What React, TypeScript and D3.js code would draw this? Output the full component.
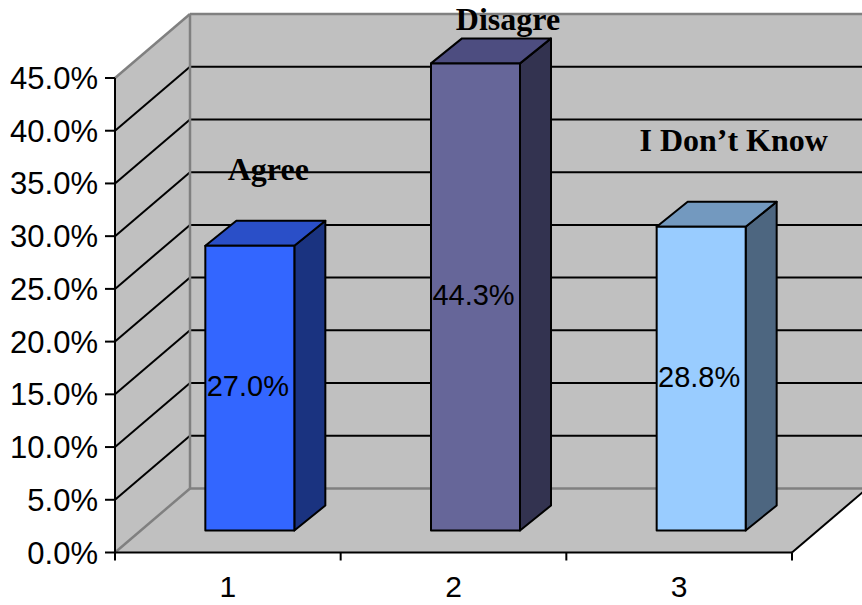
import React from "react";
import * as d3 from "d3";

// Survey responses, share of respondents (%)
const categories = ["1", "2", "3"];
const answerNames = ["Agree", "Disagre", "I Don\u2019t Know"];
const shares = [27.0, 44.3, 28.8];
const yTicks = [0, 5, 10, 15, 20, 25, 30, 35, 40, 45];

// Per-bar colours: front face, top face, side face
const frontColors = ["#3366FF", "#666699", "#99CCFF"];
const topColors = ["#2A4FC8", "#4D4D80", "#7399BF"];
const sideColors = ["#1A3380", "#333350", "#4D6680"];

// Answer-name label placement relative to the bar's back-top centre
const nameOffsets = [
  { dx: 3, dy: -41 },
  { dx: 17, dy: -8 },
  { dx: 17, dy: -51 },
];

const W = 862;
const H = 605;
const left = 115;
const right = 792;
const floorY = 552.5;
const topY = 78;
// Depth vector of the chart box (front plane -> back wall)
const DX = 75;
const DY = -64;
// Bars sit partway into the box
const barShift = { dx: 22, dy: -22 };
const barDepth = { dx: 31, dy: -25 };
const barWidth = 89;

const x = d3.scaleBand<string>().domain(categories).range([left, right]);
const y = d3.scaleLinear().domain([0, 45]).range([floorY, topY]);

const pts = (p: [number, number][]) => p.map((q) => q.join(",")).join(" ");

export default function App() {
  const sans = "'Liberation Sans', Arial, sans-serif";
  const serif = "'Liberation Serif', 'Times New Roman', serif";
  const wallRight = right + DX;
  const backY = (v: number) => y(v) + DY;

  return (
    <svg
      width={W}
      height={H}
      style={{ position: "absolute", left: 0, top: 0, background: "#fff" }}
    >
      {/* left side wall */}
      <polygon
        points={pts([
          [left, y(0)],
          [left, y(45)],
          [left + DX, backY(45)],
          [left + DX, backY(0)],
        ])}
        fill="#C0C0C0"
      />
      {/* back wall */}
      <rect
        x={left + DX}
        y={backY(45)}
        width={wallRight - (left + DX)}
        height={backY(0) - backY(45)}
        fill="#C0C0C0"
      />
      {/* floor */}
      <polygon
        points={pts([
          [left, y(0)],
          [right, y(0)],
          [wallRight, backY(0)],
          [left + DX, backY(0)],
        ])}
        fill="#C0C0C0"
      />

      {/* gridlines */}
      {yTicks
        .filter((v) => v > 0 && v < 45)
        .map((v) => (
          <g key={`g${v}`} stroke="#000" strokeWidth={2} fill="none">
            <line x1={left} y1={y(v)} x2={left + DX} y2={backY(v)} />
            <line x1={left + DX} y1={backY(v)} x2={wallRight} y2={backY(v)} />
          </g>
        ))}

      {/* wall edges */}
      <g stroke="#808080" strokeWidth={2.5} fill="none">
        <line x1={left} y1={y(45)} x2={left + DX} y2={backY(45)} />
        <line x1={left + DX} y1={backY(45)} x2={wallRight} y2={backY(45)} />
        <line x1={left + DX} y1={backY(45)} x2={left + DX} y2={backY(0)} />
        <line x1={left + DX} y1={backY(0)} x2={wallRight} y2={backY(0)} />
        <line x1={left} y1={y(0)} x2={left + DX} y2={backY(0)} />
      </g>
      <line
        x1={right}
        y1={y(0)}
        x2={wallRight}
        y2={backY(0)}
        stroke="#000"
        strokeWidth={2}
      />

      {/* bars */}
      {categories.map((c, i) => {
        const cx = (x(c) as number) + x.bandwidth() / 2 + barShift.dx;
        const x0 = cx - barWidth / 2;
        const x1 = cx + barWidth / 2;
        const yb = floorY + barShift.dy;
        const yt = yb - (y(0) - y(shares[i]));
        const bx = barDepth.dx;
        const by = barDepth.dy;
        return (
          <g key={c} stroke="#000" strokeWidth={2} strokeLinejoin="round">
            <polygon
              points={pts([
                [x1, yb],
                [x1 + bx, yb + by],
                [x1 + bx, yt + by],
                [x1, yt],
              ])}
              fill={sideColors[i]}
            />
            <polygon
              points={pts([
                [x0, yt],
                [x1, yt],
                [x1 + bx, yt + by],
                [x0 + bx, yt + by],
              ])}
              fill={topColors[i]}
            />
            <rect x={x0} y={yt} width={barWidth} height={yb - yt} fill={frontColors[i]} />
            <text
              x={cx - 2}
              y={(yt + yb) / 2 + 8}
              textAnchor="middle"
              fontFamily={sans}
              fontSize={29}
              fill="#000"
              stroke="none"
            >
              {d3.format(".1f")(shares[i])}%
            </text>
            <text
              x={cx + bx / 2 + nameOffsets[i].dx}
              y={yt + by + nameOffsets[i].dy}
              textAnchor="middle"
              fontFamily={serif}
              fontWeight="bold"
              fontSize={32}
              fill="#000"
              stroke="none"
            >
              {answerNames[i]}
            </text>
          </g>
        );
      })}

      {/* value axis */}
      <line x1={left} y1={y(0)} x2={left} y2={y(45)} stroke="#000" strokeWidth={2} />
      {yTicks.map((v) => (
        <g key={`t${v}`}>
          <line x1={left - 10} y1={y(v)} x2={left} y2={y(v)} stroke="#000" strokeWidth={2} />
          <text
            x={left - 17}
            y={y(v) + 11}
            textAnchor="end"
            fontFamily={sans}
            fontSize={31}
            fill="#000"
          >
            {d3.format(".1f")(v)}%
          </text>
        </g>
      ))}

      {/* category axis */}
      <line x1={left} y1={y(0)} x2={right} y2={y(0)} stroke="#000" strokeWidth={2} />
      {[...categories.map((c) => x(c) as number), right].map((tx, i) => (
        <line key={`xt${i}`} x1={tx} y1={y(0)} x2={tx} y2={y(0) + 8} stroke="#000" strokeWidth={2} />
      ))}
      {categories.map((c) => (
        <text
          key={`xl${c}`}
          x={(x(c) as number) + x.bandwidth() / 2}
          y={597}
          textAnchor="middle"
          fontFamily={sans}
          fontSize={30}
          fill="#000"
        >
          {c}
        </text>
      ))}
    </svg>
  );
}
